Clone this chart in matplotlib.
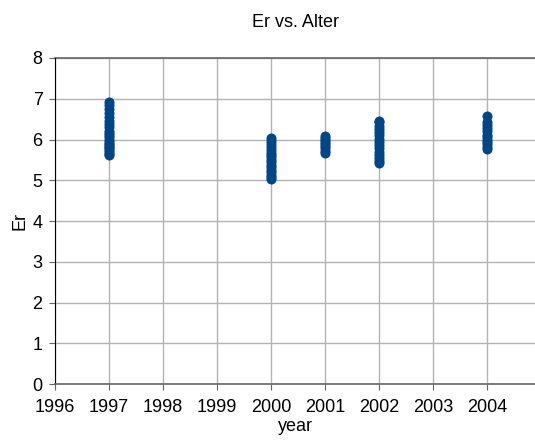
import matplotlib
matplotlib.use("Agg")
import matplotlib.pyplot as plt

plt.rcParams['font.family'] = ['Liberation Sans', 'DejaVu Sans']

# Er values per year
er_1997 = [5.62, 5.65, 5.70, 5.74, 5.78, 5.82, 5.86, 5.90, 5.95, 6.00, 6.05,
           6.10, 6.16, 6.22, 6.30, 6.38, 6.46, 6.55, 6.65, 6.75, 6.85, 6.93]
er_2000 = [5.02, 5.08, 5.14, 5.20, 5.26, 5.32, 5.38, 5.44, 5.50, 5.56, 5.62,
           5.68, 5.75, 5.82, 5.90, 5.97, 6.03]
er_2001 = [5.68, 5.73, 5.78, 5.83, 5.88, 5.93, 5.98, 6.03, 6.08]
er_2002 = [5.42, 5.48, 5.55, 5.62, 5.70, 5.78, 5.86, 5.94, 6.02, 6.10, 6.18,
           6.26, 6.34, 6.42, 6.46]
er_2004 = [5.77, 5.82, 5.88, 5.94, 6.00, 6.06, 6.12, 6.20, 6.28, 6.36, 6.42, 6.58]

groups = {1997: er_1997, 2000: er_2000, 2001: er_2001, 2002: er_2002, 2004: er_2004}
year_ticks = list(range(1996, 2005))

fig = plt.figure(figsize=(5.35, 4.41), dpi=100)
ax = fig.add_axes([0.103, 0.129, 0.897, 0.7395])

years = []
er = []
for y, vals in groups.items():
    years += [y] * len(vals)
    er += vals
ax.scatter(years, er, s=52, color="#004586", zorder=3, linewidths=0)

ax.set_xlim(1996, 2004.89)
ax.set_ylim(0, 8)
ax.set_xticks(year_ticks)
ax.set_xticklabels([str(y) for y in year_ticks])
ax.set_yticks(range(0, 9))
ax.grid(True, color="#b3b3b3", linewidth=1)
ax.set_axisbelow(True)

for s in ["right", "top"]:
    ax.spines[s].set_visible(False)
ax.spines["left"].set_color("black")
ax.spines["bottom"].set_color("#666666")
ax.spines["bottom"].set_linewidth(1.2)
ax.axhline(8, color="#666666", linewidth=1.2, clip_on=False)
ax.tick_params(direction="out", length=4, color="#666666", labelsize=13)
ax.tick_params(axis="x", pad=7)
ax.tick_params(axis="y", pad=5)

ax.set_title("Er vs. Alter", fontsize=13, pad=22)
ax.set_xlabel("year", fontsize=13, labelpad=1)
ax.set_ylabel("Er", fontsize=13, labelpad=3)

plt.savefig("out.png", dpi=100)
